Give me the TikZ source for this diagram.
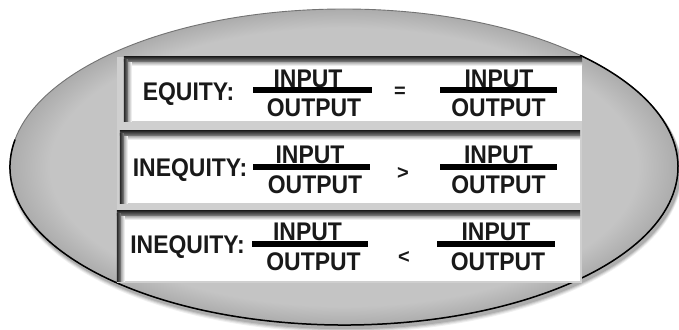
\documentclass[tikz,border=0pt]{standalone}
\usepackage{fontspec}
\setmainfont{Liberation Sans}
\newfontfamily\panelfont[FakeStretch=0.9]{Liberation Sans}
\usetikzlibrary{shapes.geometric,calc}
\definecolor{ovalgray}{RGB}{196,196,196}
\definecolor{ovalrim}{RGB}{172,172,172}
\definecolor{gapgray}{RGB}{207,207,207}
\pgfdeclareradialshading{ovalshade}{\pgfpoint{0bp}{0bp}}{color(0bp)=(ovalgray); color(22bp)=(ovalgray); color(25bp)=(ovalrim); color(50bp)=(ovalrim)}
\tikzset{
  x=1pt, y=-1pt,
  lab/.style={font=\panelfont\fontsize{25.5}{30}\selectfont\bfseries, inner sep=0pt, anchor=base, text=black!90},
  opst/.style={font=\fontsize{20}{24}\selectfont\bfseries, inner sep=0pt, anchor=center, text=black!90},
  barst/.style={rectangle, fill=black, inner sep=0pt, minimum height=6pt},
  boxst/.style={rectangle, fill=white, inner sep=0pt},
}
\newcommand{\boxbands}[1]{%
  \shade[top color=black!35, bottom color=white] ($(#1.north west)+(4,5)$) rectangle ($(#1.north east)+(0,9)$);
  \shade[left color=black!35, right color=white] ($(#1.north west)+(4,5)$) rectangle ($(#1.south west)+(8,0)$);
  \shade[top color=black!85, bottom color=black!50] (#1.north west) rectangle ($(#1.north east)+(0,5)$);
  \shade[left color=black!85, right color=black!50] ($(#1.north west)+(0,3)$) rectangle ($(#1.south west)+(4,0)$);
}
\begin{document}
\begin{tikzpicture}
\useasboundingbox (0,0) rectangle (679,329);
% shadow of the oval
\foreach \k/\o in {5/0.06,4/0.08,3/0.10,2/0.12}{
  \fill[black,opacity=\o] (346,169+\k*0.6) ellipse [x radius=334pt+\k*0.5pt, y radius=158pt+\k*0.5pt];
}
\node[ellipse, minimum width=668pt, minimum height=316pt, inner sep=0pt,
      shading=ovalshade, draw=black!55, line width=0.9pt] (oval) at (344,167) {};
% darker lower outline
\draw[black, line width=1.5pt] ($(oval.center)+({334*cos(170)},{-158*sin(170)})$)
  arc[start angle=170, end angle=405, x radius=334pt, y radius=158pt];
% light backdrop behind the panels
\fill[gapgray] (117,57) rectangle (582,283);
% panels
\node[boxst, minimum width=458pt, minimum height=64pt] (box1) at (353,89) {};
\node[boxst, minimum width=460pt, minimum height=72pt] (box2) at (350,167) {};
\node[boxst, minimum width=463pt, minimum height=70pt] (box3) at (348.5,246) {};
\boxbands{box1}
\boxbands{box2}
\boxbands{box3}
% row 1
\node[lab] (l1) at (188.5,100) {EQUITY:};
\node[barst, minimum width=119pt] (b11) at (312.5,90) {};
\node[lab] (i11) at (308,87) {INPUT};
\node[lab] (o11) at (314,116) {OUTPUT};
\node[opst] (op1) at (400,92) {=};
\node[barst, minimum width=117pt] (b12) at (498.5,90) {};
\node[lab] (i12) at (499,87) {INPUT};
\node[lab] (o12) at (498.5,116) {OUTPUT};
% row 2
\node[lab] (l2) at (190,176) {INEQUITY:};
\node[barst, minimum width=117pt] (b21) at (311.5,167) {};
\node[lab] (i21) at (310,163) {INPUT};
\node[lab] (o21) at (315,193) {OUTPUT};
\node[opst] (op2) at (403,173) {>};
\node[barst, minimum width=117pt] (b22) at (498.5,167) {};
\node[lab] (i22) at (498.5,163) {INPUT};
\node[lab] (o22) at (498.5,193) {OUTPUT};
% row 3
\node[lab] (l3) at (187.5,253) {INEQUITY:};
\node[barst, minimum width=116pt] (b31) at (310,244) {};
\node[lab] (i31) at (307.5,240) {INPUT};
\node[lab] (o31) at (313.5,270) {OUTPUT};
\node[opst] (op3) at (404,257) {<};
\node[barst, minimum width=118pt] (b32) at (496,244) {};
\node[lab] (i32) at (496,240) {INPUT};
\node[lab] (o32) at (498,270) {OUTPUT};
\end{tikzpicture}
\end{document}
